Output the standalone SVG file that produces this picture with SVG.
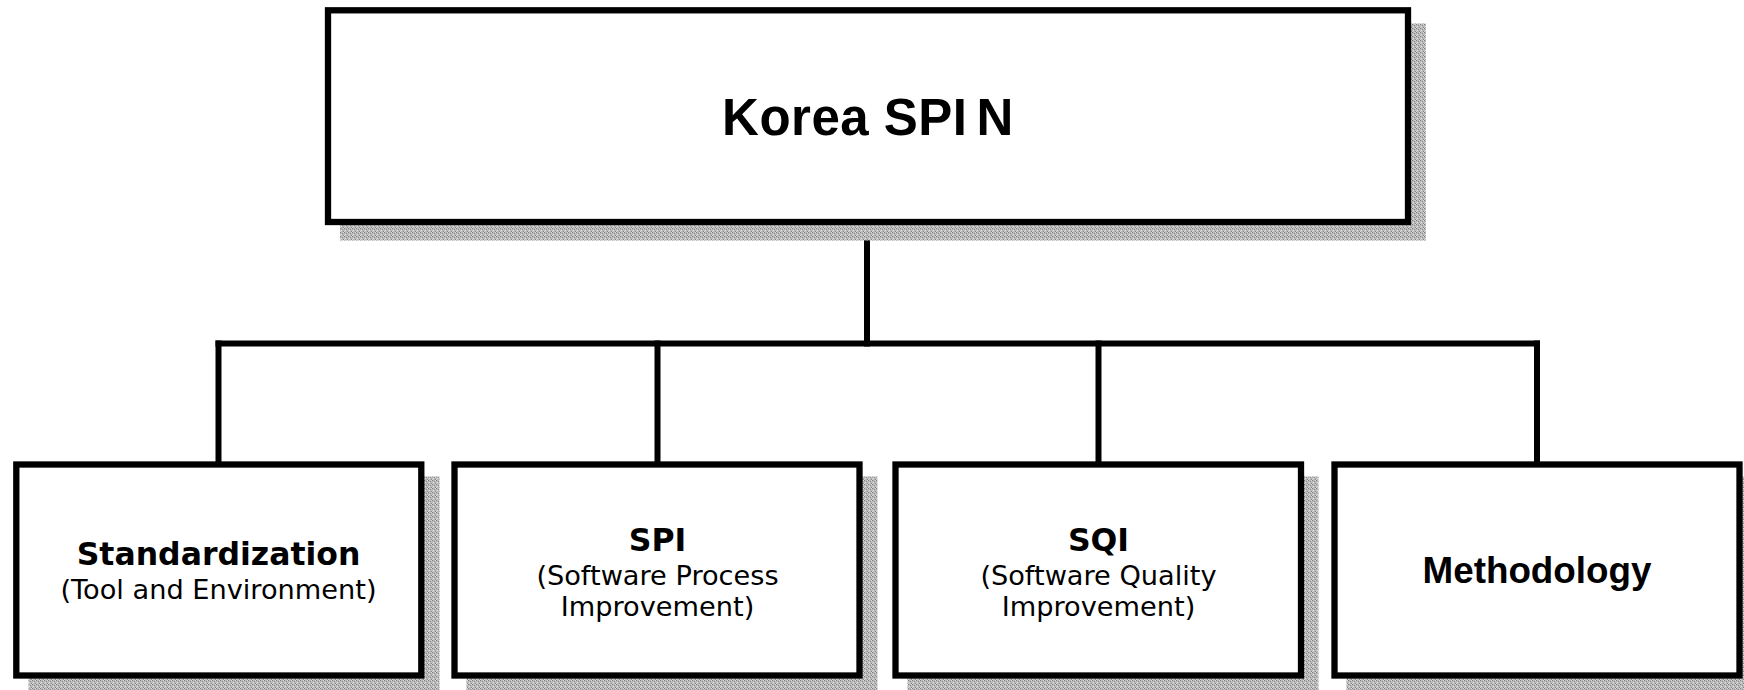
<svg xmlns="http://www.w3.org/2000/svg" width="1744" height="690" viewBox="0 0 1744 690">
  <defs>
    <pattern id="stipple" width="4" height="4" patternUnits="userSpaceOnUse">
      <rect width="4" height="4" fill="#b9b9b9"/>
      <rect x="0" y="0" width="1" height="1" fill="#7e7e7e"/>
      <rect x="2" y="1" width="1" height="1" fill="#8e8e8e"/>
      <rect x="1" y="2" width="1" height="1" fill="#e2e2e2"/>
      <rect x="3" y="3" width="1" height="1" fill="#858585"/>
      <rect x="3" y="0" width="1" height="1" fill="#dadada"/>
      <rect x="0" y="3" width="1" height="1" fill="#d6d6d6"/>
    </pattern>
  </defs>
  <style>
    .shadow { fill: url(#stipple); }
    .box { fill: #ffffff; stroke: #000000; stroke-width: 6.3; }
    .conn { fill: none; stroke: #000000; stroke-width: 6; stroke-linecap: square; }
    .title { font-family: "Liberation Sans", Arial, sans-serif; font-weight: bold; font-size: 51px; letter-spacing: 0.5px; fill: #000; text-anchor: middle; }
    .bold { font-family: "DejaVu Sans", Verdana, sans-serif; font-weight: bold; font-size: 31.5px; fill: #000; text-anchor: middle; }
    .reg { font-family: "DejaVu Sans", Verdana, sans-serif; font-size: 27.2px; fill: #000; text-anchor: middle; }
    .arialb { font-family: "Liberation Sans", Arial, sans-serif; font-weight: bold; font-size: 36.8px; fill: #000; text-anchor: middle; }
  </style>
  <rect width="1744" height="690" fill="#ffffff"/>

  <g id="connectors">
    <line class="conn" x1="867" y1="224" x2="867" y2="343.5"/>
    <line class="conn" x1="218.5" y1="343.5" x2="1537" y2="343.5"/>
    <line class="conn" x1="218.5" y1="343.5" x2="218.5" y2="462"/>
    <line class="conn" x1="657.5" y1="343.5" x2="657.5" y2="462"/>
    <line class="conn" x1="1098.5" y1="343.5" x2="1098.5" y2="462"/>
    <line class="conn" x1="1537" y1="343.5" x2="1537" y2="462"/>
  </g>

  <g id="node-korea-spin">
    <rect class="shadow" x="340" y="23.5" width="1086" height="217"/>
    <rect class="box" x="328" y="10.3" width="1080" height="211.7"/>
    <text class="title" x="868" y="135">Korea SPI<tspan dx="9">N</tspan></text>
  </g>

  <g id="node-standardization">
    <rect class="shadow" x="28.5" y="476.5" width="411" height="217"/>
    <rect class="box" x="16.3" y="464.5" width="405" height="211"/>
    <text class="bold" x="218.5" y="565">Standardization</text>
    <text class="reg" x="218.5" y="599">(Tool and Environment)</text>
  </g>

  <g id="node-spi">
    <rect class="shadow" x="466.5" y="476.5" width="411" height="217"/>
    <rect class="box" x="454.5" y="464.5" width="405" height="211"/>
    <text class="bold" x="657.5" y="550.5">SPI</text>
    <text class="reg" x="657.5" y="585">(Software Process</text>
    <text class="reg" x="657.5" y="616">Improvement)</text>
  </g>

  <g id="node-sqi">
    <rect class="shadow" x="907.5" y="476.5" width="411" height="217"/>
    <rect class="box" x="895.5" y="464.5" width="405.5" height="211"/>
    <text class="bold" x="1098.5" y="550.5">SQI</text>
    <text class="reg" x="1098.5" y="585">(Software Quality</text>
    <text class="reg" x="1098.5" y="616">Improvement)</text>
  </g>

  <g id="node-methodology">
    <rect class="shadow" x="1346.5" y="476.5" width="411" height="217"/>
    <rect class="box" x="1334.5" y="464.5" width="405" height="211"/>
    <text class="arialb" x="1537" y="583">Methodology</text>
  </g>
</svg>
